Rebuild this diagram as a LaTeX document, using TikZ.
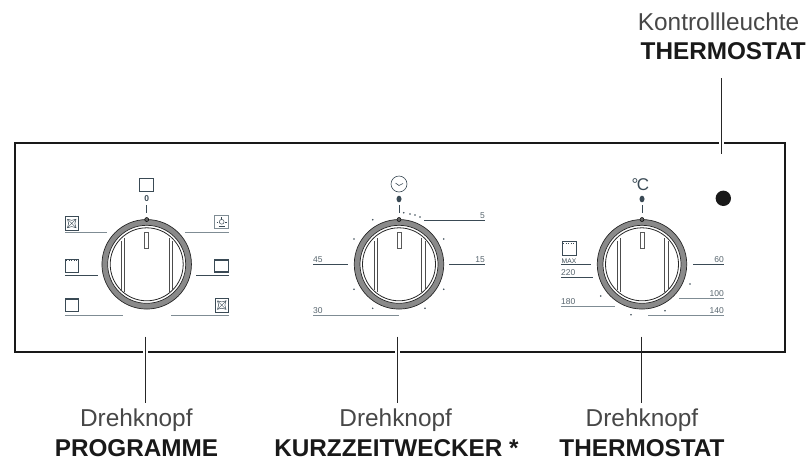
\documentclass[tikz,border=0pt]{standalone}
\usepackage{fontspec}
\setmainfont{Liberation Sans}
\definecolor{ink}{HTML}{3A4A55}
\definecolor{inkl}{HTML}{7F8C94}
\definecolor{ringg}{HTML}{8A8A8A}
\tikzset{
 x=1pt,y=-1pt,
 panel/.style={draw=black!90,line width=2.4pt},
 leader/.style={draw=black!85,line width=1.1pt},
 halo/.style={draw=white,line width=5pt},
 scale line/.style={draw=ink,line width=.7pt},
 scale light/.style={draw=inkl,line width=1pt},
 tinytxt/.style={font=\fontsize{8.5}{9}\selectfont,text=ink!85,inner sep=0pt},
 captxt/.style={font=\fontsize{24.4}{26}\selectfont,text=black!72,inner sep=0pt,align=center},
 capbold/.style={font=\fontsize{24.3}{26}\selectfont\bfseries,text=black!90,inner sep=0pt,align=center},
 icon/.style={draw=ink,line width=.6pt},
 tickdot/.style={fill=ink,draw=none},
}
\newcommand{\knob}[2]{%
 \node[circle,draw=black!85,fill=ringg,line width=.7pt,minimum size=89.5pt,inner sep=0pt] (#1) at (#2,264.3) {};
 \node[circle,draw=black!85,fill=white,line width=.7pt,minimum size=78pt,inner sep=0pt] (#1i) at (#2,264.3) {};
 \node[circle,draw=black!85,fill=white,line width=.8pt,minimum size=73pt,inner sep=0pt] (#1c) at (#2,264.3) {};
 \begin{scope}[shift={(#2,264.3)}]
  \draw[black!70,line width=.7pt] (-25,-23.5) -- (-25,26);
  \draw[black!70,line width=.7pt] (-22,-26) -- (-22,28);
  \draw[black!70,line width=.7pt] (22.5,-26) -- (22.5,28);
  \draw[black!70,line width=.7pt] (26,-23.5) -- (26,25.5);
  \draw[black!65,line width=.6pt,fill=white] (-2,-32) rectangle (2,-16.5);
  \draw[black,line width=.5pt,fill=ringg!70!black] (0,-44.8) circle (2);
  \draw[ink,line width=.8pt] (0,-59) -- (0,-51.5);
 \end{scope}}
\newcommand{\tmk}[2]{\fill[tickdot] (#1,#2) circle (.85);}
\newcommand{\xicon}[2]{%
 \begin{scope}[shift={(#1,#2)}]
 \draw[icon] (0,0) rectangle (13.5,13.5);
 \draw[icon,line width=.5pt] (2.5,2.5) .. controls (5.5,4) and (8,4) .. (11,2.5) .. controls (9.5,5.5) and (9.5,8) .. (11,11) .. controls (8,9.5) and (5.5,9.5) .. (2.5,11) .. controls (4,8) and (4,5.5) .. (2.5,2.5);
 \draw[icon,line width=.4pt] (2.5,2.5) -- (11,11) (11,2.5) -- (2.5,11);
 \end{scope}}
\begin{document}
\begin{tikzpicture}
\useasboundingbox (0,0) rectangle (808,461);
\node[panel,minimum width=770pt,minimum height=209pt,inner sep=0pt,anchor=north west] (frame) at (13.5,142) {};
% captions
\node[captxt,anchor=base east] (kt) at (799.5,30) {Kontrollleuchte};
\node[capbold,anchor=base east] (kb) at (806,59.3) {THERMOSTAT};
\node[captxt,anchor=base] (d1t) at (136.3,426.7) {Drehknopf};
\node[capbold,anchor=base] (d1b) at (136.5,456) {PROGRAMME};
\node[captxt,anchor=base] (d2t) at (395.7,426.7) {Drehknopf};
\node[capbold,anchor=base] (d2b) at (396.5,456) {KURZZEITWECKER *};
\node[captxt,anchor=base] (d3t) at (642,426.7) {Drehknopf};
\node[capbold,anchor=base] (d3b) at (642,456) {THERMOSTAT};
% knobs
\knob{ka}{146.7}
\knob{kb2}{399}
\knob{kc}{642}
% leaders
\coordinate (la1) at (145.7,336.7); \coordinate (la2) at (145.7,402.7);
\coordinate (lb1) at (397.7,336.7); \coordinate (lb2) at (397.7,402.7);
\coordinate (lc1) at (641.7,336.7); \coordinate (lc2) at (641.7,402.7);
\coordinate (ld1) at (721.7,78.3); \coordinate (ld2) at (721.7,154);
\draw[halo] (145.7,347) -- (145.7,355);
\draw[halo] (397.7,347) -- (397.7,355);
\draw[halo] (721.7,138) -- (721.7,146);
\draw[leader] (la1) -- (la2);
\draw[leader] (lb1) -- (lb2);
\draw[leader] (lc1) -- (lc2);
\draw[leader] (ld1) -- (ld2);
% lamp
\node[circle,fill=black!90,minimum size=15.4pt,inner sep=0pt] (lamp) at (723.3,198.3) {};
% knob 1 scale
\draw[scale light] (65,232.7) -- (107,232.7);
\draw[scale line] (65,275.3) -- (98,275.3);
\draw[scale light] (65,315) -- (123,315);
\draw[scale light] (185,232.7) -- (229,232.7);
\draw[scale line] (196,275.3) -- (229,275.3);
\draw[scale light] (171,315) -- (229,315);
\draw[icon] (139.3,178) rectangle (153.7,191.7);
\node[font=\fontsize{8.5}{9}\selectfont\bfseries,text=ink,inner sep=0pt] (zero) at (146.7,199) {0};
\xicon{65}{216.7}
\draw[icon] (65,259) rectangle (78.5,272.3);
\draw[icon,dotted,line width=.6pt] (66,260.3) -- (77.5,260.3);
\draw[icon] (65,298.3) rectangle (78.5,311.7);
\draw[ink,line width=1pt] (65,299) -- (78.5,299);
\begin{scope}[shift={(214.7,216)}]
 \draw[icon,draw=inkl] (0,-1) rectangle (14,12.5);
 \draw[icon,line width=.5pt] (7,5.8) circle (2.4);
 \draw[icon,line width=.5pt] (7,1) -- (7,3.2) (2,5.8) -- (3.3,5.8) (10.7,5.8) -- (12,5.8) (4,10) -- (10,10);
\end{scope}
\draw[icon] (214.7,259) rectangle (228.7,272.3);
\draw[ink,line width=1.4pt] (214.7,260) -- (228.7,260) (214.7,271.3) -- (228.7,271.3);
\xicon{215}{298.3}
% knob 2 scale
\node[circle,draw=ink,line width=.6pt,minimum size=16pt,inner sep=0pt] (clock) at (399,184) {};
\draw[ink,line width=.6pt] (395.5,183) -- (399,185.5) -- (403,183.5);
\fill[ink] (399,199) ellipse (2.5 and 3.3);
\draw[scale line] (424,220.3) -- (485,220.3);
\draw[scale line] (449,264.3) -- (485,264.3);
\draw[scale line] (313,264.3) -- (348,264.3);
\draw[scale light] (313,315) -- (399,315);
\node[tinytxt,anchor=base east] (t5) at (485,218) {5};
\node[tinytxt,anchor=base east] (t15) at (485,262) {15};
\node[tinytxt,anchor=base west] (t45) at (313,262) {45};
\node[tinytxt,anchor=base west] (t30) at (313,313) {30};
\tmk{403.7}{212.7}\tmk{410}{214}\tmk{415}{215}\tmk{420}{217}
\tmk{372.7}{219.7}\tmk{354}{239}\tmk{354}{289.3}\tmk{372.7}{308.3}
\tmk{425}{308.3}\tmk{443.7}{289.3}\tmk{443.7}{239}
% knob 3 scale
\node[inner sep=0pt,text=ink,font=\fontsize{17}{18}\selectfont] (deg) at (640.3,185) {°\kern-1.5pt C};
\fill[ink] (642,199) ellipse (2.5 and 3.3);
\draw[icon] (562,241.7) rectangle (576,255);
\draw[icon,dotted,line width=.6pt] (563,243) -- (575,243);
\node[font=\fontsize{6.7}{7}\selectfont,text=ink,inner sep=0pt,anchor=base west] (tmax) at (561.5,263) {MAX};
\draw[scale line] (561,264.6) -- (591,264.6);
\draw[scale line] (561,277) -- (593,277);
\draw[scale light] (561,306.7) -- (615,306.7);
\draw[scale line] (693,264.3) -- (724,264.3);
\draw[scale light] (679,298.3) -- (724,298.3);
\draw[scale light] (648,315) -- (724,315);
\node[tinytxt,anchor=base west] (t220) at (561,275) {220};
\node[tinytxt,anchor=base west] (t180) at (561,304.5) {180};
\node[tinytxt,anchor=base east] (t60) at (724,262) {60};
\node[tinytxt,anchor=base east] (t100) at (724,296) {100};
\node[tinytxt,anchor=base east] (t140) at (724,313) {140};
\tmk{690}{284}\tmk{665}{310.7}\tmk{631}{314.7}\tmk{600.7}{296}
\end{tikzpicture}
\end{document}
